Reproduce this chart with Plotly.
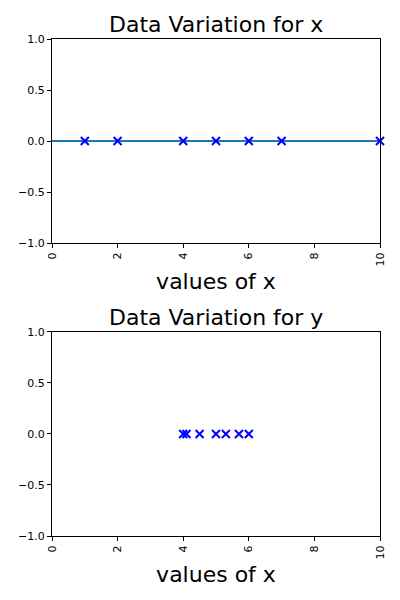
import plotly.graph_objects as go
from plotly.subplots import make_subplots

# top panel: samples of x
x_values = [1, 2, 4, 5, 6, 7, 10]
x_zeros = [0, 0, 0, 0, 0, 0, 0]
# bottom panel: samples of y
y_values = [4.0, 4.1, 4.5, 5.0, 5.3, 5.7, 6.0]
y_zeros = [0, 0, 0, 0, 0, 0, 0]
# horizontal reference line at 0 across the x limits
hline_x = [0, 10]
hline_y = [0, 0]

titles = ["Data Variation for x", "Data Variation for y"]
xlabel = "values of x"
xticks = [0, 2, 4, 6, 8, 10]
yticks = [-1.0, -0.5, 0.0, 0.5, 1.0]
yticklabels = ["\u22121.0", "\u22120.5", "0.0", "0.5", "1.0"]

font = "DejaVu Sans"

fig = make_subplots(rows=2, cols=1)

fig.add_trace(go.Scatter(x=hline_x, y=hline_y, mode="lines",
                         line=dict(color="#1f77b4", width=2),
                         showlegend=False, cliponaxis=False), row=1, col=1)
fig.add_trace(go.Scatter(x=x_values, y=x_zeros, mode="markers",
                         marker=dict(symbol="x-thin", size=8,
                                     line=dict(color="blue", width=2)),
                         showlegend=False, cliponaxis=False), row=1, col=1)
fig.add_trace(go.Scatter(x=y_values, y=y_zeros, mode="markers",
                         marker=dict(symbol="x-thin", size=8,
                                     line=dict(color="blue", width=2)),
                         showlegend=False, cliponaxis=False), row=2, col=1)

axis_style = dict(showline=True, linecolor="black", linewidth=1, mirror=True,
                  ticks="outside", ticklen=4, tickcolor="black", showgrid=False,
                  zeroline=False, automargin=False,
                  tickfont=dict(family=font, size=11, color="black"))

for r in (1, 2):
    fig.update_xaxes(range=[0, 10], tickvals=xticks, tickangle=-90,
                     title=dict(text=xlabel, font=dict(family=font, size=22, color="black"),
                                standoff=8),
                     row=r, col=1, **axis_style)
    fig.update_yaxes(range=[-1, 1], tickvals=yticks, ticktext=yticklabels,
                     row=r, col=1, **axis_style)

# page body has an 8px margin, so shift the plot area back by 8px
fig.update_layout(
    width=400, height=600,
    margin=dict(l=44, r=28, t=31, b=72),
    plot_bgcolor="white", paper_bgcolor="white",
    xaxis=dict(domain=[0, 1]), xaxis2=dict(domain=[0, 1]),
    yaxis=dict(domain=[0.5895, 1.0]), yaxis2=dict(domain=[0.0, 0.4105]),
)

fig.add_annotation(text=titles[0], xref="paper", yref="paper", x=0.5, y=1.0,
                   yanchor="bottom", yshift=0, showarrow=False,
                   font=dict(family=font, size=22, color="black"))
fig.add_annotation(text=titles[1], xref="paper", yref="paper", x=0.5, y=0.4105,
                   yanchor="bottom", yshift=0, showarrow=False,
                   font=dict(family=font, size=22, color="black"))

fig.write_html("out.html")
